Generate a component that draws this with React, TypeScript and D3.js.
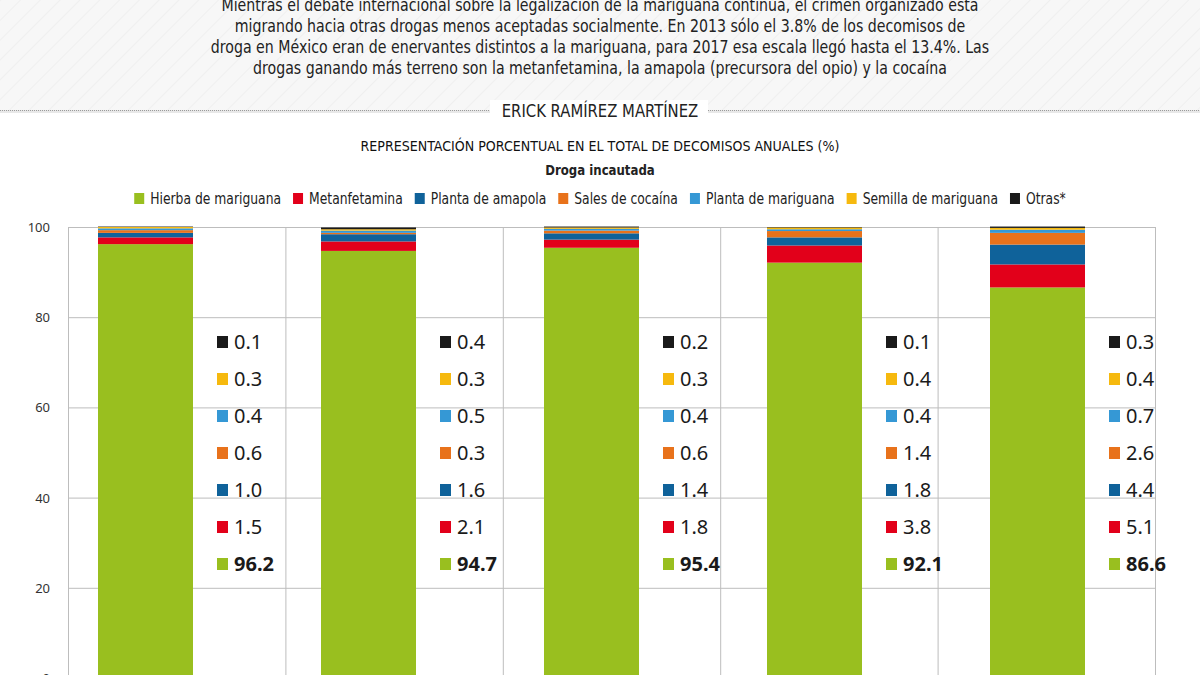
import { useRef, useEffect } from 'react';
import * as d3 from 'd3';

const years = ['2013', '2014', '2015', '2016', '2017'];
const series = [
  'Hierba de mariguana',
  'Metanfetamina',
  'Planta de amapola',
  'Sales de cocaína',
  'Planta de mariguana',
  'Semilla de mariguana',
  'Otras*',
];
const colors = ['#99bf1f', '#e2001a', '#0f629a', '#e8721b', '#3598d5', '#f6b90e', '#1a1a1a'];

// values per year, bottom to top of each stack
const hierba = [96.2, 94.7, 95.4, 92.1, 86.6];
const metanfetamina = [1.5, 2.1, 1.8, 3.8, 5.1];
const amapola = [1.0, 1.6, 1.4, 1.8, 4.4];
const cocaina = [0.6, 0.3, 0.6, 1.4, 2.6];
const plantaMariguana = [0.4, 0.5, 0.4, 0.4, 0.7];
const semilla = [0.3, 0.3, 0.3, 0.4, 0.4];
const otras = [0.1, 0.4, 0.2, 0.1, 0.3];

const yTicks = [0, 20, 40, 60, 80, 100];

const intro = [
  'Mientras el debate internacional sobre la legalización de la mariguana continúa, el crimen organizado está',
  'migrando hacia otras drogas menos aceptadas socialmente. En 2013 sólo el 3.8% de los decomisos de',
  'droga en México eran de enervantes distintos a la mariguana, para 2017 esa escala llegó hasta el 13.4%. Las',
  'drogas ganando más terreno son la metanfetamina, la amapola (precursora del opio) y la cocaína',
];
const author = 'ERICK RAMÍREZ MARTÍNEZ';
const title = 'REPRESENTACIÓN PORCENTUAL EN EL TOTAL DE DECOMISOS ANUALES (%)';
const subtitle = 'Droga incautada';

const NARROW = "'Liberation Sans Narrow', 'DejaVu Sans Condensed', 'Roboto', sans-serif";
const SANS = "'Noto Sans', 'Open Sans', sans-serif";

// squeeze a text node so it reads as narrow as the original typeface
function squeeze(sel: d3.Selection<SVGTextElement, unknown, null, undefined>, k: number) {
  const w = (sel.node() as SVGTextElement).getComputedTextLength();
  sel.attr('textLength', w * k).attr('lengthAdjust', 'spacingAndGlyphs');
  return w * k;
}

export default function App() {
  const svgRef = useRef<SVGSVGElement>(null);

  useEffect(() => {
    if (!svgRef.current) return;
    const svg = d3.select(svgRef.current);
    svg.selectAll('*').remove();

    const columns = [hierba, metanfetamina, amapola, cocaina, plantaMariguana, semilla, otras];
    const rows = years.map((yr, i) => {
      const r: Record<string, number | string> = { year: yr };
      series.forEach((s, j) => (r[s] = columns[j][i]));
      return r;
    });

    const y = d3.scaleLinear().domain([0, 100]).range([678, 227]);
    const xGrid = d3.scaleBand().domain(years).range([68, 1155]);
    const xBar = d3.scaleBand().domain(years).range([98, 1085]).paddingInner(0.574).paddingOuter(0);
    const color = d3.scaleOrdinal<string, string>().domain(series).range(colors);
    const labelY = d3.scalePoint().domain(series).range([564, 342]);

    // header band
    const defs = svg.append('defs');
    const pat = defs
      .append('pattern')
      .attr('id', 'hatch')
      .attr('width', 14)
      .attr('height', 14)
      .attr('patternUnits', 'userSpaceOnUse')
      .attr('patternTransform', 'rotate(45)');
    pat.append('rect').attr('width', 14).attr('height', 14).attr('fill', '#f7f7f7');
    pat.append('line').attr('x1', 0).attr('x2', 0).attr('y1', 0).attr('y2', 14).attr('stroke', '#efefef').attr('stroke-width', 2);
    svg.append('rect').attr('x', 0).attr('y', 0).attr('width', 1200).attr('height', 110).attr('fill', 'url(#hatch)');
    svg.append('rect').attr('x', 0).attr('y', 110).attr('width', 1200).attr('height', 3).attr('fill', '#e8e8e8');
    svg.append('line')
      .attr('x1', 0).attr('x2', 1200).attr('y1', 110.5).attr('y2', 110.5)
      .attr('stroke', '#9a9a9a').attr('stroke-dasharray', '1,1');

    intro.forEach((line, i) => {
      const t = svg.append('text')
        .attr('x', 600)
        .attr('y', 11 + i * 21)
        .attr('text-anchor', 'middle')
        .attr('font-family', NARROW)
        .attr('font-size', 18.5)
        .attr('fill', '#222')
        .text(line);
      squeeze(t as any, 0.85);
    });

    // author with gap in the dotted line
    svg.append('rect').attr('x', 490).attr('y', 100).attr('width', 218).attr('height', 22).attr('fill', '#fff');
    const au = svg.append('text')
      .attr('x', 600).attr('y', 117)
      .attr('text-anchor', 'middle')
      .attr('font-family', NARROW)
      .attr('font-size', 17)
      .attr('fill', '#222')
      .text(author);
    squeeze(au as any, 0.97);

    const ti = svg.append('text')
      .attr('x', 600).attr('y', 151)
      .attr('text-anchor', 'middle')
      .attr('font-family', NARROW)
      .attr('font-size', 14.5)
      .attr('font-weight', 500)
      .attr('fill', '#111')
      .text(title);
    squeeze(ti as any, 0.97);
    const st = svg.append('text')
      .attr('x', 600).attr('y', 175)
      .attr('text-anchor', 'middle')
      .attr('font-family', NARROW)
      .attr('font-weight', 'bold')
      .attr('font-size', 14.5)
      .attr('fill', '#222')
      .text(subtitle);
    squeeze(st as any, 0.9);

    // legend, measured then centered
    const legend = svg.append('g');
    let lx = 0;
    series.forEach((s) => {
      const item = legend.append('g').attr('transform', `translate(${lx},0)`);
      item.append('rect').attr('x', 0).attr('y', -5).attr('width', 10).attr('height', 11).attr('fill', color(s));
      const t = item.append('text')
        .attr('x', 16).attr('y', 5.5)
        .attr('font-family', NARROW)
        .attr('font-size', 15)
        .attr('fill', '#222')
        .text(s);
      lx += 16 + squeeze(t as any, 0.915) + 12;
    });
    lx -= 12;
    legend.attr('transform', `translate(${600 - lx / 2},198)`);

    // grid
    const grid = svg.append('g');
    yTicks.forEach((t) => {
      grid.append('line')
        .attr('x1', 68).attr('x2', 1155)
        .attr('y1', y(t) + 0.5).attr('y2', y(t) + 0.5)
        .attr('stroke', '#bdbdbd');
      grid.append('text')
        .attr('x', 50).attr('y', y(t) + 5)
        .attr('text-anchor', 'end')
        .attr('font-family', SANS)
        .attr('font-size', 13)
        .attr('fill', '#333')
        .text(t);
    });
    [...years.map((yr) => xGrid(yr) as number), 1155].forEach((gx) => {
      grid.append('line')
        .attr('x1', gx + 0.5).attr('x2', gx + 0.5)
        .attr('y1', y(100)).attr('y2', 675)
        .attr('stroke', '#bdbdbd');
    });

    // bars
    const stacked = d3.stack<any>().keys(series)(rows);
    const bars = svg.append('g');
    stacked.forEach((layer) => {
      bars.append('g')
        .attr('fill', color(layer.key))
        .selectAll('rect')
        .data(layer)
        .join('rect')
        .attr('x', (d: any) => xBar(d.data.year as string) as number)
        .attr('width', xBar.bandwidth())
        .attr('y', (d: any) => y(d[1]))
        .attr('height', (d: any) => y(d[0]) - y(d[1]));
    });

    // value lists beside each bar
    const labels = svg.append('g');
    years.forEach((yr, i) => {
      const bx = xBar(yr) as number;
      series.forEach((s, j) => {
        const ly = labelY(s) as number;
        labels.append('rect')
          .attr('x', bx + 119).attr('y', ly - 6)
          .attr('width', 11).attr('height', 12)
          .attr('fill', color(s));
        labels.append('text')
          .attr('x', bx + 136).attr('y', ly + 7)
          .attr('font-family', SANS)
          .attr('font-size', 20)
          .attr('font-weight', j === 0 ? 'bold' : 'normal')
          .attr('fill', '#1a1a1a')
          .text(columns[j][i].toFixed(1));
      });
    });
  }, []);

  return (
    <svg
      ref={svgRef}
      width={1200}
      height={675}
      style={{ position: 'absolute', left: 0, top: 0, background: '#fff' }}
    />
  );
}
